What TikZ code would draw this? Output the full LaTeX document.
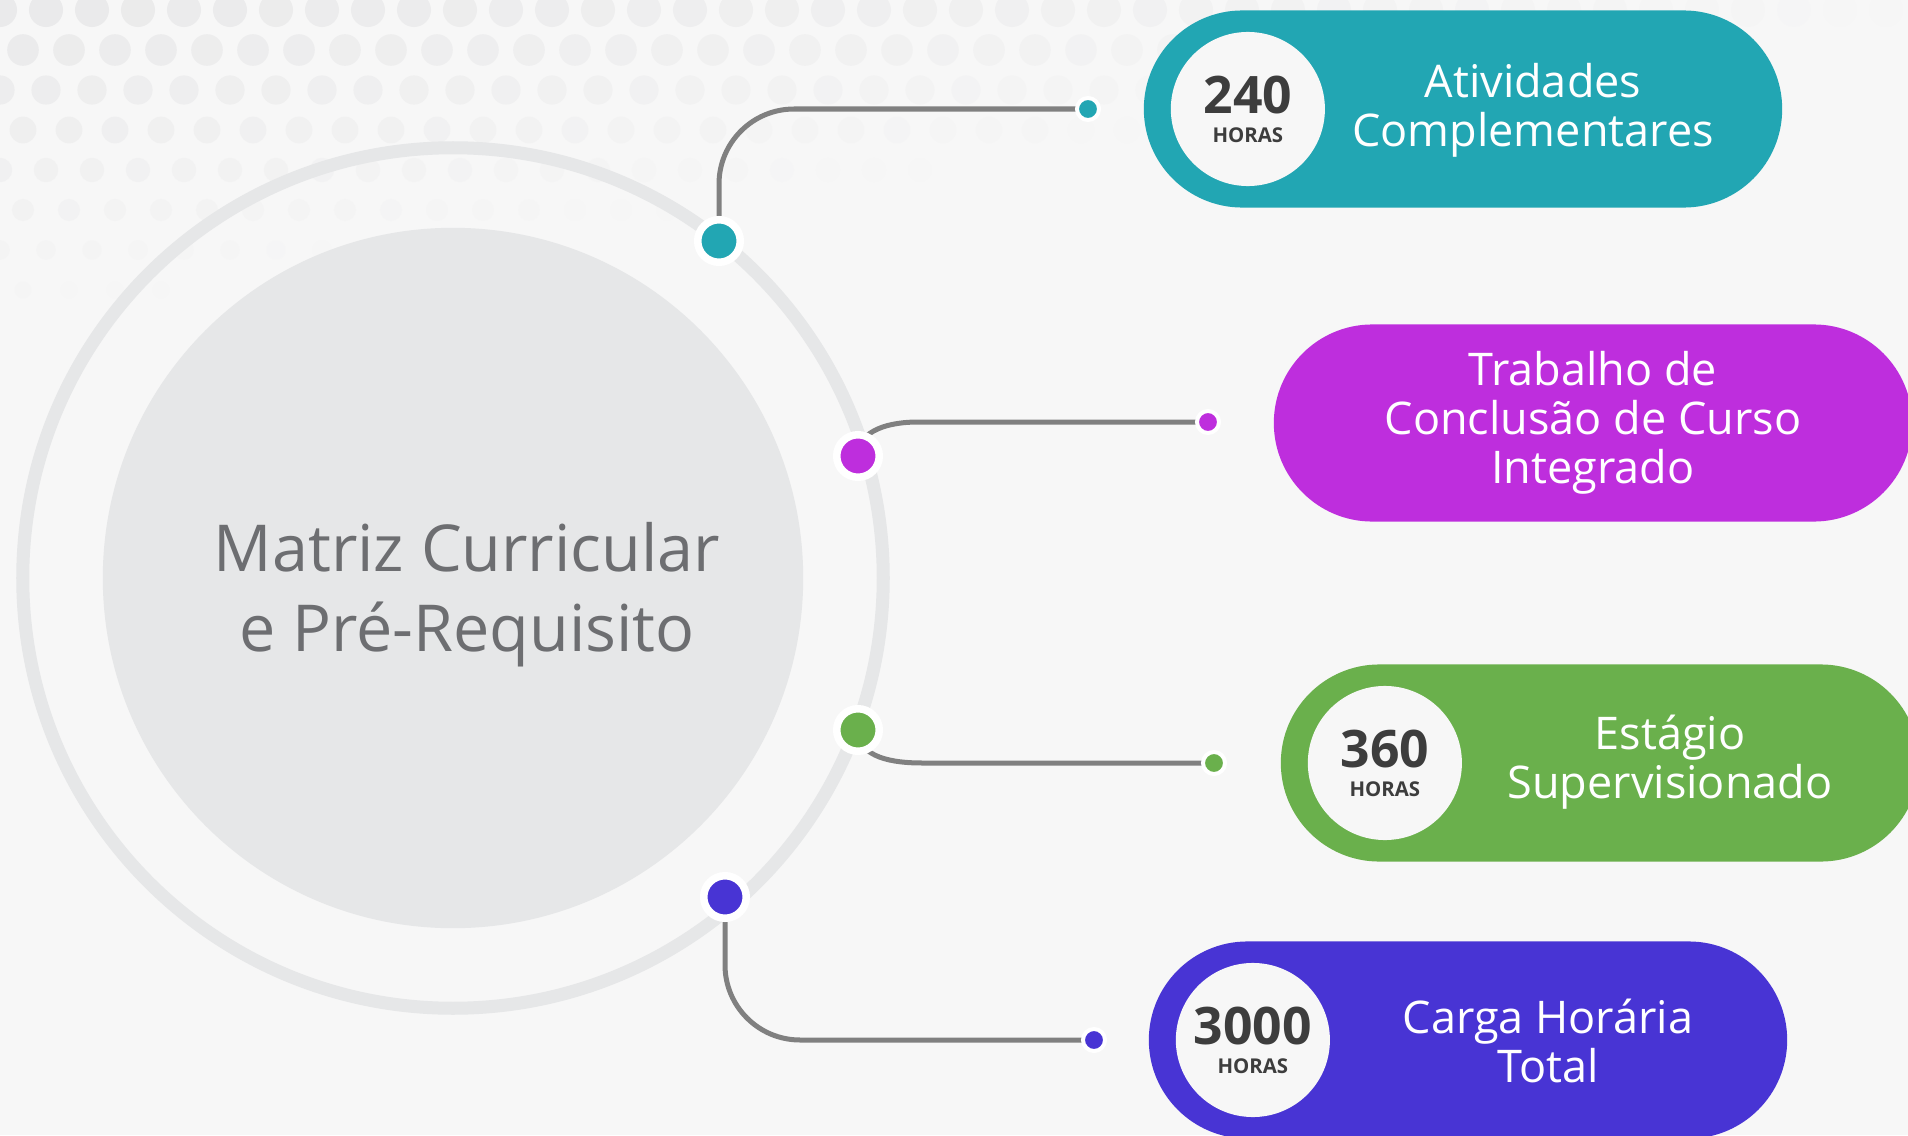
\documentclass[tikz,border=0pt]{standalone}
\usepackage{fontspec}
\setmainfont{Open Sans}
\usepackage{tikz}
\usetikzlibrary{backgrounds}
\usetikzlibrary{shapes,shapes.misc}
\usetikzlibrary{positioning}

\definecolor{cAtiv}{HTML}{22A6B3}
\definecolor{cTcc}{HTML}{BE2EDD}
\definecolor{cEst}{HTML}{6AB04C}
\definecolor{cCarga}{HTML}{4834D4}
\definecolor{cBg}{HTML}{F7F7F7}
\definecolor{cRing}{HTML}{E6E7E8}
\definecolor{cTitle}{HTML}{6D6E71}
\definecolor{cNum}{HTML}{3D3D3D}
\definecolor{cLink}{HTML}{808080}
\definecolor{cDots}{HTML}{E8E8E9}

\newcommand\titlefont{\fontsize{18.4}{22.8}\selectfont}
\newcommand\pillfont{\fontsize{12.8}{13.9}\selectfont}
\newcommand\numfont{\fontsize{14.7}{16}\selectfont\bfseries}
\newcommand\horasfont{\fontsize{5.8}{7}\selectfont\bfseries}

\begin{document}
\begin{tikzpicture}[x=0.01cm,y=0.01cm]
\useasboundingbox (0,0) rectangle (1908,1135);

\tikzstyle{pill} = [rounded rectangle, minimum width=6.38cm,
	minimum height=1.97cm, inner sep=0pt];
\tikzstyle{hours} = [circle, fill=cBg, minimum size=1.54cm, inner sep=0pt,
	align=center, text=cNum, font=\horasfont];
\tikzstyle{pilltext} = [text=white, align=center, font=\pillfont];
\tikzstyle{dot} = [circle, draw=white, line width=0.075cm,
	minimum size=0.425cm, inner sep=0pt];
\tikzstyle{enddot} = [circle, draw=white, line width=0.04cm,
	minimum size=0.22cm, inner sep=0pt];
\tikzstyle{link} = [draw=cLink, line width=0.05cm];

\coordinate (c) at (453,557);
\node[font=\titlefont, text=cTitle, align=center] (matriz) at (467,540)
	{Matriz Curricular\\e Pré-Requisito};

\node[pill,fill=cAtiv] (ativ) at (1463,1026) {};
\node[pill,fill=cTcc] (tcc) at (1593,712) {};
\node[pill,fill=cEst] (est) at (1600,372) {};
\node[pill,fill=cCarga] (carga) at (1468,95) {};

\node[hours, right=0.27cm of ativ.west] (ativ-h) {{\numfont 240}\\[1.25pt]HORAS};
\node[hours, right=0.27cm of est.west] (est-h) {{\numfont 360}\\[1.25pt]HORAS};
\node[hours, right=0.27cm of carga.west] (carga-h) {{\numfont 3000}\\[1.25pt]HORAS};

\node[pilltext] (ativ-t) at (1533,1025) {Atividades\\Complementares};
\node[pilltext] (tcc-t) at (1593,712) {Trabalho de\\Conclusão de Curso\\Integrado};
\node[pilltext] (est-t) at (1670,373) {Estágio\\Supervisionado};
\node[pilltext] (carga-t) at (1548,94) {Carga Horária\\Total};

\node[dot,fill=cAtiv] (ativ-d) at (719,894) {};
\node[dot,fill=cTcc] (tcc-d) at (858,679) {};
\node[dot,fill=cEst] (est-d) at (858,405) {};
\node[dot,fill=cCarga] (carga-d) at (725,238) {};

\node[enddot,fill=cAtiv] (ativ-e) at (1088,1026) {};
\node[enddot,fill=cTcc] (tcc-e) at (1208,713) {};
\node[enddot,fill=cEst] (est-e) at (1214,372) {};
\node[enddot,fill=cCarga] (carga-e) at (1094,95) {};

\coordinate (tcc-b) at (918,713);
\coordinate (est-b) at (922,372);

\begin{scope}[on background layer]
\fill[cBg] (0,0) rectangle (1908,1135);
\foreach \r in {0,...,7}{
	\foreach \k in {0,...,41}{
		\pgfmathsetmacro\px{46*\k + 23*mod(\r,2)}
		\pgfmathsetmacro\py{1125 - 40*\r}
		\pgfmathsetmacro\rad{0.17 - 0.012*\r}
		\pgfmathsetmacro\op{max(0, 0.85 - 0.11*\r - 0.02*\k)}
		\fill[cDots, opacity=\op] (\px,\py) circle[radius=\rad cm];
	}
}
\draw[cRing, line width=0.13cm] (c) circle[radius=4.30cm];
\fill[cRing] (c) circle[radius=3.50cm];

\draw[link, rounded corners=0.75cm] (ativ-d.center) |- (ativ-e.center);
\draw[link] (tcc-d.center) to[out=90,in=180] (tcc-b) -- (tcc-e.center);
\draw[link] (est-d.center) to[out=-90,in=180] (est-b) -- (est-e.center);
\draw[link, rounded corners=0.75cm] (carga-d.center) |- (carga-e.center);
\end{scope}

\end{tikzpicture}
\end{document}
